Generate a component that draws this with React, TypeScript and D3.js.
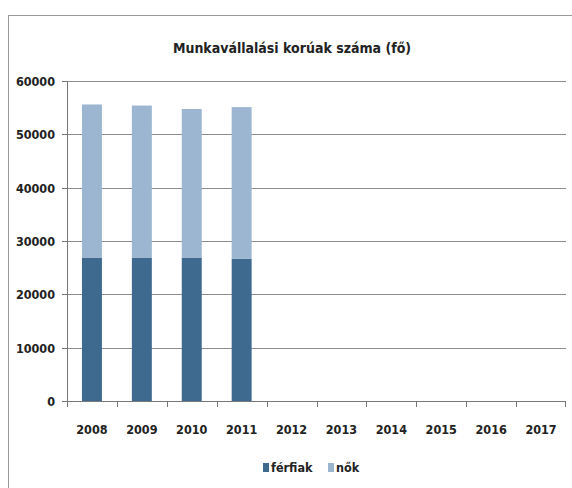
import * as d3 from "d3";

const years = ["2008", "2009", "2010", "2011", "2012", "2013", "2014", "2015", "2016", "2017"];
const ferfiak = [26900, 26900, 26900, 26700];
const nok = [28700, 28500, 27850, 28400];
const yTicks = [0, 10000, 20000, 30000, 40000, 50000, 60000];

const SERIES = [
  { key: "ferfiak", label: "férfiak", color: "#3f6a90", values: ferfiak },
  { key: "nok", label: "nők", color: "#9cb6d1", values: nok },
];

const FONT = "'DejaVu Sans Condensed', 'Liberation Sans Narrow', sans-serif";

export default function App() {
  const W = 572;
  const H = 488;
  const m = { top: 81, right: 6, bottom: 87, left: 67 };
  const w = W - m.left - m.right;
  const h = H - m.top - m.bottom;

  const x = d3.scaleBand().domain(years).range([0, w]).paddingInner(0.6).paddingOuter(0.3);
  const step = w / years.length;
  const y = d3.scaleLinear().domain([0, 60000]).range([h, 0]);

  const stackRows = ferfiak.map((_, i) => ({ year: years[i], ferfiak: ferfiak[i], nok: nok[i] }));
  const stacked = d3.stack<any>().keys(SERIES.map((s) => s.key))(stackRows);

  return (
    <svg width={W} height={H} style={{ position: "absolute", left: 0, top: 0, background: "#fff" }}>
      <rect x={8.5} y={15.5} width={W} height={H} fill="#fff" stroke="#9a9a9a" strokeWidth={1} />
      <text x={292} y={53} textAnchor="middle" fontFamily={FONT} fontWeight="bold" fontSize={14} fill="#222">
        Munkavállalási korúak száma (fő)
      </text>
      <g transform={`translate(${m.left},${m.top})`}>
        {yTicks.map((t) => (
          <g key={t} transform={`translate(0,${Math.round(y(t)) + 0.5})`}>
            {t > 0 && <line x1={0} x2={w} stroke="#8c8c8c" strokeWidth={1} />}
            <line x1={-5} x2={0} stroke="#777" />
            <text x={-12} dy="0.36em" textAnchor="end" fontFamily={FONT} fontWeight="bold" fontSize={12.5} fill="#222">
              {t}
            </text>
          </g>
        ))}
        {stacked.map((layer, si) =>
          layer.map((d, i) => (
            <rect
              key={`${si}-${i}`}
              x={x(years[i])}
              y={y(d[1])}
              width={x.bandwidth()}
              height={y(d[0]) - y(d[1])}
              fill={SERIES[si].color}
            />
          ))
        )}
        <line x1={0.5} x2={0.5} y1={0} y2={h} stroke="#777" />
        <line x1={0} x2={w} y1={h + 0.5} y2={h + 0.5} stroke="#777" />
        {years.map((yr, i) => (
          <g key={yr}>
            <line x1={Math.round(i * step) + 0.5} x2={Math.round(i * step) + 0.5} y1={h} y2={h + 6} stroke="#777" />
            <text
              x={(x(yr) ?? 0) + x.bandwidth() / 2}
              y={h + 33}
              textAnchor="middle"
              fontFamily={FONT}
              fontWeight="bold"
              fontSize={12.5}
              fill="#222"
            >
              {yr}
            </text>
          </g>
        ))}
        <line x1={w - 0.5} x2={w - 0.5} y1={h} y2={h + 6} stroke="#777" />
      </g>
      <g transform="translate(263,467)">
        <rect x={0} y={-4} width={6} height={9} fill={SERIES[0].color} />
        <text x={8} dy="0.36em" fontFamily={FONT} fontWeight="bold" fontSize={12.5} fill="#222">
          {SERIES[0].label}
        </text>
        <rect x={65} y={-4} width={6} height={9} fill={SERIES[1].color} />
        <text x={73} dy="0.36em" fontFamily={FONT} fontWeight="bold" fontSize={12.5} fill="#222">
          {SERIES[1].label}
        </text>
      </g>
    </svg>
  );
}
